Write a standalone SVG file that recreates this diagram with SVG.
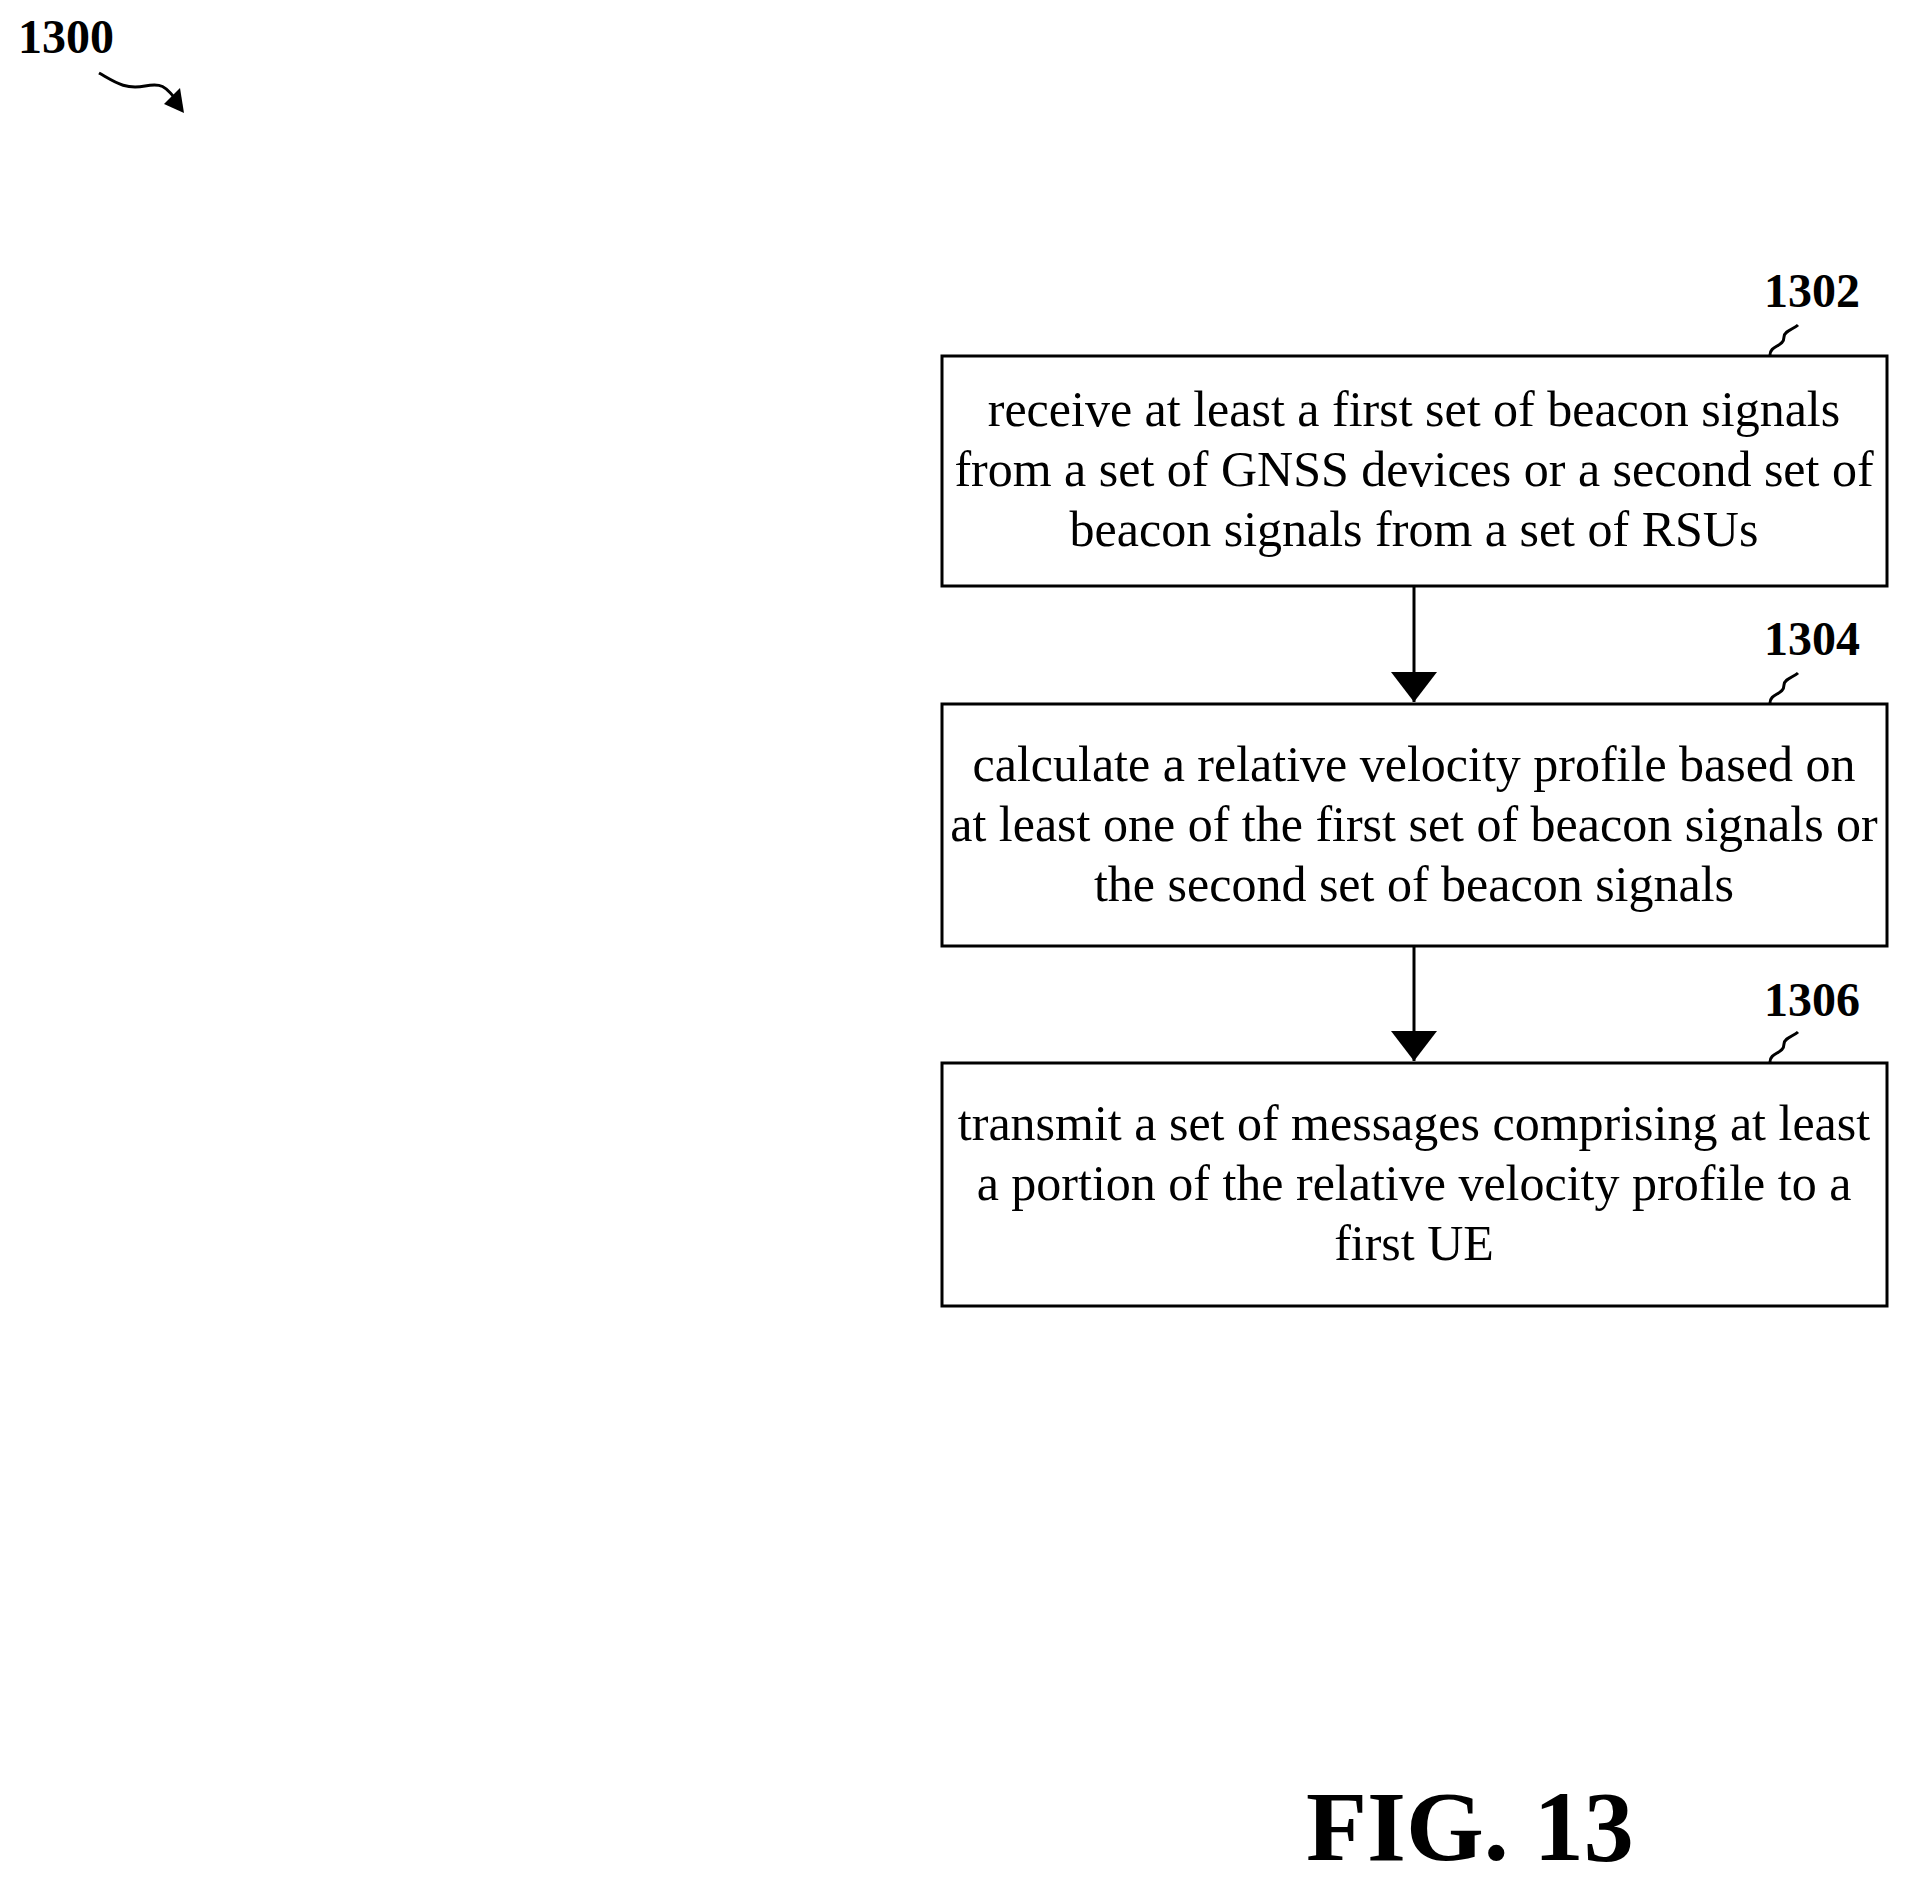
<svg xmlns="http://www.w3.org/2000/svg" width="1910" height="1882" viewBox="0 0 1910 1882">
<style>
.box{fill:#fff;stroke:#000;stroke-width:3}
.t{font-family:"Liberation Serif",serif;font-size:50px;text-anchor:middle}
.lbl{font-family:"Liberation Serif",serif;font-size:48px;font-weight:bold}
.sq{fill:none;stroke:#000;stroke-width:3}
.conn{stroke:#000;stroke-width:3}
</style>
<defs>
<marker id="a2" markerWidth="30" markerHeight="46" refX="30" refY="23" orient="auto" markerUnits="userSpaceOnUse" viewBox="0 0 30 46"><path d="M0,0 L30,23 L0,46 z"/></marker></defs>
<text class="lbl" x="18" y="53">1300</text>
<path class="sq" d="M99,73 C115,82 125,90 145,86 C160,83 165,84 180,105" />
<path d="M164,104 L184,113 L180,88 z"/>
<g id="n1302">
<rect class="box" x="942" y="356" width="945" height="230"/>
<text class="t" x="1414" y="426">receive at least a first set of beacon signals</text>
<text class="t" x="1414" y="486">from a set of GNSS devices or a second set of</text>
<text class="t" x="1414" y="546">beacon signals from a set of RSUs</text>
<text class="lbl" x="1764" y="307">1302</text>
<path class="sq" d="M1770,355 C1770,345 1784,347 1784,337 C1784,331 1794,329 1798,325"/>
</g>
<g id="n1304">
<rect class="box" x="942" y="704" width="945" height="242"/>
<text class="t" x="1414" y="781">calculate a relative velocity profile based on</text>
<text class="t" x="1414" y="841">at least one of the first set of beacon signals or</text>
<text class="t" x="1414" y="901">the second set of beacon signals</text>
<text class="lbl" x="1764" y="655">1304</text>
<path class="sq" d="M1770,703 C1770,693 1784,695 1784,685 C1784,679 1794,677 1798,673"/>
</g>
<g id="n1306">
<rect class="box" x="942" y="1063" width="945" height="243"/>
<text class="t" x="1414" y="1140">transmit a set of messages comprising at least</text>
<text class="t" x="1414" y="1200">a portion of the relative velocity profile to a</text>
<text class="t" x="1414" y="1260">first UE</text>
<text class="lbl" x="1764" y="1016">1306</text>
<path class="sq" d="M1770,1062 C1770,1052 1784,1054 1784,1044 C1784,1038 1794,1036 1798,1032"/>
</g>
<g id="connectors">
<line class="conn" x1="1414" y1="586" x2="1414" y2="702" marker-end="url(#a2)"/>
<line class="conn" x1="1414" y1="946" x2="1414" y2="1061" marker-end="url(#a2)"/>
</g>
<text x="1306" y="1860" style="font-family:'Liberation Serif',serif;font-size:100px;font-weight:bold">FIG. 13</text>
</svg>
